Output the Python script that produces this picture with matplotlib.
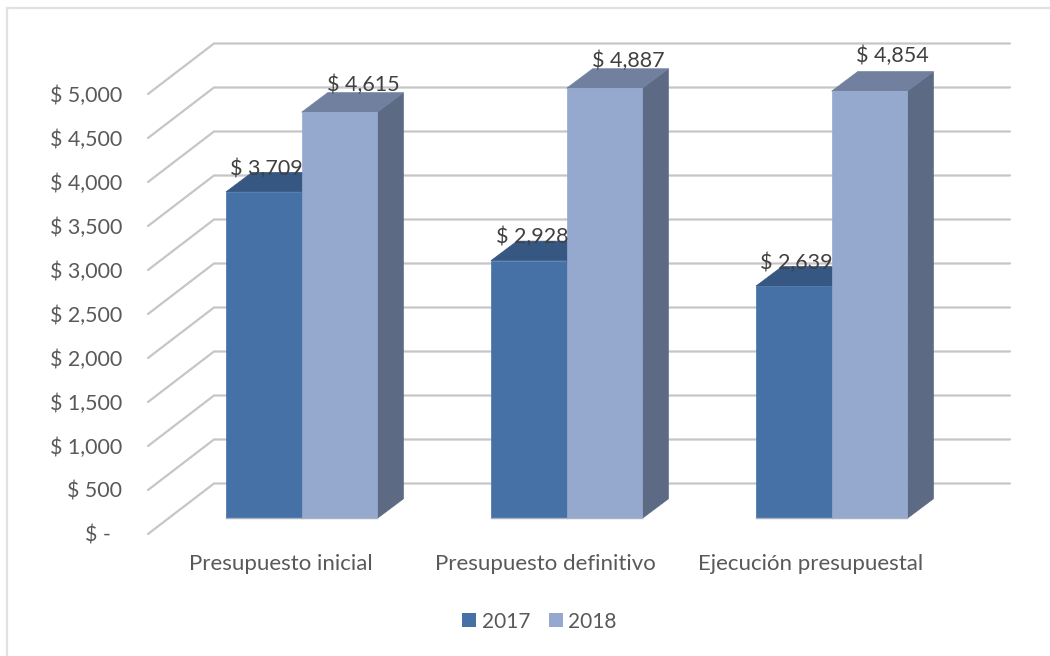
import matplotlib
matplotlib.use("Agg")
import matplotlib.pyplot as plt
from matplotlib.lines import Line2D
from matplotlib.patches import Patch, Polygon, Rectangle

categories = ["Presupuesto inicial", "Presupuesto definitivo", "Ejecución presupuestal"]
series_names = ["2017", "2018"]
values_2017 = [3709, 2928, 2639]
values_2018 = [4615, 4887, 4854]
y_ticks = [0, 500, 1000, 1500, 2000, 2500, 3000, 3500, 4000, 4500, 5000]
y_labels = ["$ -\u00a0\u00a0", "$ 500", "$ 1,000", "$ 1,500", "$ 2,000", "$ 2,500",
            "$ 3,000", "$ 3,500", "$ 4,000", "$ 4,500", "$ 5,000"]

W, H = 1050, 656
plt.rcParams["font.family"] = ["Lato", "DejaVu Sans"]
fig = plt.figure(figsize=(W / 100, H / 100), dpi=100, facecolor="white")

def axes_px(left, right, top, bottom):
    return fig.add_axes([left / W, 1 - bottom / H, (right - left) / W, (bottom - top) / H])

BASE, TOP5K = 518.3, 78.3
LEFT, RIGHT = 148.0, 1010.0
GROUP_PX = 265.0
BAR_PX = 75.7
FIRST_CENTER_PX = 301.7
PX_PER_UNIT = (BASE - TOP5K) / 5000

ax = axes_px(LEFT, RIGHT, TOP5K, BASE)
ax.set_xlim((LEFT - FIRST_CENTER_PX) / GROUP_PX, (RIGHT - FIRST_CENTER_PX) / GROUP_PX)
ax.set_ylim(0, 5000)
ax.patch.set_alpha(0)
for s in ax.spines.values():
    s.set_visible(False)

# depth unit (one bar depth) in data coordinates
DX = 26.0 / GROUP_PX
DY = 19.5 / PX_PER_UNIT
BW = BAR_PX / GROUP_PX

def proj(x, v, d=0.0):
    return (x + d * DX, v + d * DY)

# walls
D_FRONT, D_BACK = -0.805, 1.785
X_FRONT = (LEFT - FIRST_CENTER_PX) / GROUP_PX
X_BACK = (214 - FIRST_CENTER_PX) / GROUP_PX
X_END = (RIGHT - FIRST_CENTER_PX) / GROUP_PX
GRID = "#c6c6c6"
for v in y_ticks:
    yb = v + D_BACK * DY
    yf = v + D_FRONT * DY
    ax.plot([X_FRONT, X_BACK, X_END], [yf, yb, yb], color=GRID, lw=1.6,
            clip_on=False, zorder=1, solid_capstyle="round", solid_joinstyle="miter")

def bar3d(x0, v, front, top, side, z):
    x1 = x0 + BW
    edge = "#a9b1bf"
    ax.add_patch(Polygon([proj(x1, 0), proj(x1, 0, 1), proj(x1, v, 1), proj(x1, v)],
                         facecolor=side, edgecolor=side, lw=0.5, clip_on=False, zorder=z))
    ax.add_patch(Polygon([proj(x0, v), proj(x1, v), proj(x1, v, 1), proj(x0, v, 1)],
                         facecolor=top, edgecolor=top, lw=0.5, clip_on=False, zorder=z))
    ax.add_patch(Rectangle((x0, 0), BW, v, facecolor=front, edgecolor=front, lw=0.5,
                           clip_on=False, zorder=z + 0.1))
    ax.plot([x0, x1], [0, 0], color=edge, lw=1.0, clip_on=False, zorder=z + 0.2)

C17 = ("#4571a7", "#355782", "#35557f")
C18 = ("#95a9cf", "#71809f", "#5c6a83")
for i, (a, b) in enumerate(zip(values_2017, values_2018)):
    bar3d(i - BW, a, *C17, 2)
    bar3d(i, b, *C18, 3)

# data labels: offsets in pixels from bar top centre
off17 = [(3, 23), (3, 23.6), (2, 23)]
off18 = [(23.5, 27), (23.5, 27), (22.5, 35)]
for i in range(3):
    for xc, v, off in ((i - BW / 2, values_2017[i], off17[i]),
                       (i + BW / 2, values_2018[i], off18[i])):
        ax.annotate(f"$ {v:,}", (xc, v), xytext=off, textcoords="offset pixels",
                    ha="center", va="center", fontsize=15.5, color="#404040",
                    annotation_clip=False, zorder=6)

# category axis
ax.set_xticks([i - 21 / GROUP_PX for i in range(3)])
ax.set_xticklabels(categories, fontsize=16, color="#595959")
ax.tick_params(axis="x", length=0, pad=26)
ax.set_yticks([])

# value axis on the front edge of the side wall
ay = axes_px(LEFT, RIGHT, TOP5K + 15.7, BASE + 15.7)
ay.set_ylim(0, 5000)
ay.patch.set_alpha(0)
ay.set_xticks([])
for s in ay.spines.values():
    s.set_visible(False)
ay.set_yticks(y_ticks)
ay.set_yticklabels(y_labels, fontsize=15.4, color="#595959")
ay.tick_params(axis="y", length=0, pad=18.5)

handles = [Patch(facecolor=C17[0], edgecolor="none"), Patch(facecolor=C18[0], edgecolor="none")]
fig.legend(handles, series_names, loc="center", bbox_to_anchor=(539.5 / W, 1 - 621.5 / H), ncol=2,
           frameon=False, fontsize=15, labelcolor="#595959", handlelength=0.68, handleheight=0.68,
           handletextpad=0.27, columnspacing=0.87, borderpad=0)

# frame remnants: only the top and left edges are visible
fig.add_artist(Line2D([6.5 / W, 6.5 / W, 1.0], [0.0, 1 - 7.5 / H, 1 - 7.5 / H],
                      transform=fig.transFigure, color="#e2e2e2", lw=1.6,
                      solid_joinstyle="miter"))
fig.savefig("out.png", dpi=100, facecolor="white")
